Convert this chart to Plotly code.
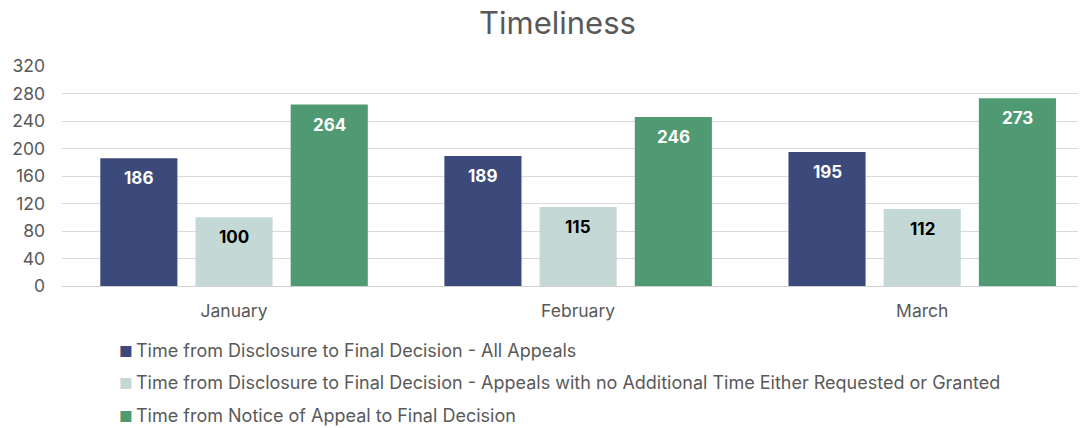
import plotly.graph_objects as go

months = ["January", "February", "March"]
series_names = [
    "Time from Disclosure to Final Decision - All Appeals",
    "Time from Disclosure to Final Decision - Appeals with no Additional Time Either Requested or Granted",
    "Time from Notice of Appeal to Final Decision",
]
all_appeals = [186, 189, 195]
no_additional = [100, 115, 112]
notice_to_final = [264, 246, 273]
y_ticks = [0, 40, 80, 120, 160, 200, 240, 280, 320]
chart_title = "Timeliness"

colors = ["#3b4a7a", "#c4d8d5", "#4f9a72"]
text_colors = ["white", "black", "white"]
values = [all_appeals, no_additional, notice_to_final]

W, H = 1078, 420
ML, MR, MT, MB = 54, 0, 58, 142
x_range = [-0.5, 2.476]
bargap = 0.17
bargroupgap = 0.19
plot_w = W - ML - MR
plot_h = H - MT - MB
px_per_cat = plot_w / (x_range[1] - x_range[0])
slot = px_per_cat * (1 - bargap) / len(values)

fig = go.Figure()
for i, (name, vals) in enumerate(zip(series_names, values)):
    fig.add_trace(go.Bar(
        x=months, y=vals, name=name,
        marker=dict(color=colors[i], line=dict(width=0)),
        showlegend=False,
    ))
    for m, v in zip(months, vals):
        fig.add_annotation(
            x=m, y=v, xref="x", yref="y", text=str(v), showarrow=False,
            xshift=(i - 1) * slot, yshift=-20, yanchor="middle",
            font=dict(family="Inter", size=17, color=text_colors[i], weight="bold"),
        )

# legend rows (manual, to match compact marker/text spacing)
legend_x = 109
legend_y = [342, 374, 407]
for i, name in enumerate(series_names):
    fig.add_annotation(
        x=(legend_x - ML) / plot_w, y=(H - MB - legend_y[i]) / plot_h,
        xref="paper", yref="paper",
        text=f"<span style='color:{colors[i]};font-size:15px'>■</span>&#8201;{name}",
        showarrow=False, xanchor="left", yanchor="middle",
        font=dict(family="Inter", size=18, color="#595959"),
    )

# title
title_cx, title_cy = 549, 15
fig.add_annotation(
    x=(title_cx - ML) / plot_w, y=(H - MB - title_cy) / plot_h,
    xref="paper", yref="paper", text=chart_title, showarrow=False,
    xanchor="center", yanchor="middle",
    font=dict(family="Inter", size=31, color="#595959"),
)

fig.update_layout(
    width=W, height=H,
    margin=dict(l=ML, r=MR, t=MT, b=MB),
    paper_bgcolor="white", plot_bgcolor="white",
    font=dict(family="Inter", color="#595959", size=17),
    barmode="group", bargap=bargap, bargroupgap=bargroupgap,
    showlegend=False,
)
fig.update_xaxes(range=x_range, showgrid=False, ticks="", showline=False,
                 tickfont=dict(family="Inter", size=17.5, color="#595959"),
                 ticklabelstandoff=12)
fig.update_yaxes(range=[0, 320], tickvals=y_ticks, showgrid=True, gridcolor="#d9d9d9",
                 gridwidth=1, zeroline=True, zerolinecolor="#d0d0d0", zerolinewidth=1,
                 ticks="", tickfont=dict(family="Inter", size=17.5, color="#595959"),
                 ticklabelstandoff=16)

fig.write_html("out.html")
